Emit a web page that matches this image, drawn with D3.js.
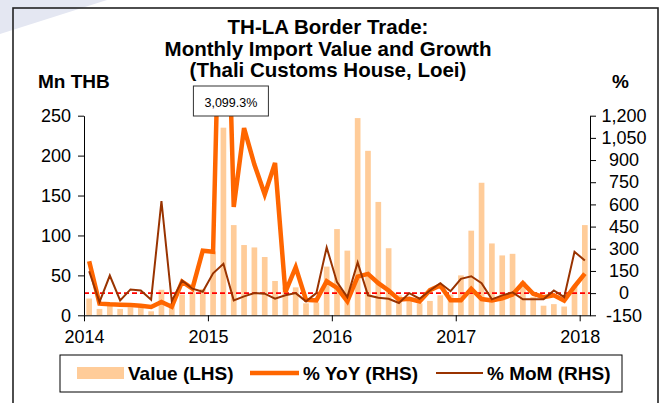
<!DOCTYPE html>
<html>
<head>
<meta charset="utf-8">
<script src="https://cdn.jsdelivr.net/npm/d3@7"></script>
<style>
    body { margin: 0; background: #fff; }
    svg { display: block; font-family: "Liberation Sans", Arial, sans-serif; }
    .axis path, .axis line { stroke: #000; }
</style>
</head>
<body>
<div id="chart"></div>
<script>

// monthly series, Jan 2014 .. Jan 2018
const yearLabels = ["2014", "2015", "2016", "2017", "2018"];

// import value, Mn THB (LHS)
const importValue = [
    21, 8, 16, 8, 10, 10, 5, 32, 14, 26, 30, 33,
    80, 235, 113, 88, 85, 73, 43, 35, 35, 15, 16, 61,
    108, 81, 247, 206, 142, 84, 25, 22, 15, 18, 25, 26,
    50, 106, 166, 90, 75, 77, 42, 23, 12, 14, 11, 36,
    113
];

// % YoY (RHS)
const yoyGrowth = [
    215, -71, -76, -78, -80, -85, -94, -60, -92, 78, 30, 287,
    280, 3099.3, 583, 1116, 870, 668, 881, 7, 175, -46, -49, 80,
    35, -55, 112, 130, 67, 18, -44, -38, -56, 20, 52, -49,
    -49, 30, -40, -49, -35, -10, 68, -4, -27, -15, -50, 45,
    132
];

// % MoM (RHS)
const momGrowth = [
    148, -60, 119, -49, 25, 18, -44, 623, -54, 85, 30, 9,
    134, 198, -49, -22, 0, -4, -38, -15, 0, -56, 0, 309,
    74, -27, 208, -15, -31, -38, -67, 0, -38, 18, 67, 13,
    97, 114, 67, -42, -15, 5, -42, -42, -42, 18, -27, 280,
    220
];

const leftTicks = [0, 50, 100, 150, 200, 250];
const rightTicks = [-150, 0, 150, 300, 450, 600, 750, 900, 1050, 1200];
const peakLabel = "3,099.3%";

const W = 667, H = 403;
const plot = {left: 84, right: 590, top: 115.7, bottom: 315.3};

let svg = d3.select("#chart").append("svg")
    .attr("width", W)
    .attr("height", H);

svg.append("rect").attr("width", W).attr("height", H).attr("fill", "#fff");

// faint slide background streak at the corner
svg.append("polygon")
    .attr("points", "0,0 107,0 0,34")
    .attr("fill", "#e4e7f2");

// outer frame
svg.append("rect")
    .attr("x", 13).attr("y", 8)
    .attr("width", 645).attr("height", 420)
    .attr("fill", "none")
    .attr("stroke", "#222")
    .attr("stroke-width", 1.6);

// title
let title = svg.append("text")
    .attr("text-anchor", "middle")
    .attr("font-weight", "bold")
    .attr("font-size", 20.5)
    .attr("fill", "#000");
["TH-LA Border Trade:", "Monthly Import Value and Growth", "(Thali Customs House, Loei)"]
    .forEach((t, i) => {
        title.append("tspan").attr("x", 328).attr("y", 34 + i * 21.7).text(t);
    });

svg.append("text").attr("x", 38).attr("y", 88)
    .attr("font-weight", "bold").attr("font-size", 19).text("Mn THB");
svg.append("text").attr("x", 612).attr("y", 88)
    .attr("font-weight", "bold").attr("font-size", 19).text("%");

// scales
const idx = d3.range(importValue.length);

let xBand = d3.scaleBand()
    .domain(idx)
    .range([plot.left, plot.right])
    .paddingInner(0.45)
    .paddingOuter(0.225);

let xLin = d3.scaleLinear()
    .domain([0, importValue.length])
    .range([plot.left, plot.right]);

let yLeft = d3.scaleLinear().domain([0, 250]).range([plot.bottom, plot.top]);
let yRight = d3.scaleLinear().domain([-150, 1200]).range([plot.bottom, plot.top]);

const xMid = i => xBand(i) + xBand.bandwidth() / 2;

// clip lines at the plot area, like excel does
svg.append("clipPath").attr("id", "plotClip")
    .append("rect")
    .attr("x", plot.left).attr("y", plot.top)
    .attr("width", plot.right - plot.left)
    .attr("height", plot.bottom - plot.top);

// bars
svg.append("g").selectAll("rect")
    .data(importValue)
    .enter()
    .append("rect")
    .attr("x", (d, i) => xBand(i))
    .attr("y", d => yLeft(d))
    .attr("width", xBand.bandwidth())
    .attr("height", d => yLeft(0) - yLeft(d))
    .attr("fill", "#ffcc99");

// zero line of the RHS
svg.append("line")
    .attr("x1", plot.left).attr("x2", plot.right)
    .attr("y1", yRight(0)).attr("y2", yRight(0))
    .attr("stroke", "#ff0000")
    .attr("stroke-width", 1.7)
    .attr("stroke-dasharray", "5,3");

let lines = svg.append("g").attr("clip-path", "url(#plotClip)");

let lineGen = d3.line()
    .x((d, i) => xMid(i))
    .y(d => yRight(d));

lines.append("path")
    .datum(yoyGrowth)
    .attr("d", lineGen)
    .attr("fill", "none")
    .attr("stroke", "#ff6600")
    .attr("stroke-width", 4.5)
    .attr("stroke-linejoin", "miter");

lines.append("path")
    .datum(momGrowth)
    .attr("d", lineGen)
    .attr("fill", "none")
    .attr("stroke", "#993300")
    .attr("stroke-width", 2);

// axes
let leftAxis = d3.axisLeft(yLeft).tickValues(leftTicks).tickSize(6).tickSizeOuter(0);
let rightAxis = d3.axisRight(yRight).tickValues(rightTicks).tickSize(6).tickSizeOuter(0)
    .tickFormat(d => d3.format(",")(d).replace("\u2212", "-"));
let bottomAxis = d3.axisBottom(xLin)
    .tickValues(yearLabels.map((y, i) => i * 12))
    .tickFormat((d, i) => yearLabels[i])
    .tickSize(6).tickSizeOuter(0);

let gl = svg.append("g").attr("class", "axis")
    .attr("transform", "translate(" + plot.left + ",0)")
    .call(leftAxis);
gl.selectAll("text").attr("font-size", 18).attr("fill", "#000").attr("x", -13);

let gr = svg.append("g").attr("class", "axis")
    .attr("transform", "translate(" + plot.right + ",0)")
    .call(rightAxis);
gr.selectAll("text").attr("font-size", 18).attr("fill", "#000")
    .attr("x", 34).attr("text-anchor", "middle");

let gb = svg.append("g").attr("class", "axis")
    .attr("transform", "translate(0," + plot.bottom + ")")
    .call(bottomAxis);
gb.selectAll("text").attr("font-size", 18).attr("fill", "#000").attr("dy", "1.05em");

svg.selectAll(".axis").attr("font-family", null);

// callout for the off-scale peak
let peak = d3.maxIndex(yoyGrowth);
let callout = svg.append("g").attr("transform", "translate(" + (xMid(peak) - 30) + ",86)");
callout.append("rect")
    .attr("width", 75).attr("height", 30)
    .attr("fill", "#fff")
    .attr("stroke", "#333")
    .attr("stroke-width", 1);
callout.append("text")
    .attr("x", 37.5).attr("y", 21)
    .attr("text-anchor", "middle")
    .attr("font-size", 12.5)
    .text(peakLabel);

// legend
let legend = svg.append("g");
legend.append("rect")
    .attr("x", 60).attr("y", 355)
    .attr("width", 562).attr("height", 37)
    .attr("fill", "#fff")
    .attr("stroke", "#000")
    .attr("stroke-width", 1);

legend.append("rect")
    .attr("x", 77).attr("y", 367)
    .attr("width", 47).attr("height", 12)
    .attr("fill", "#ffcc99");
legend.append("line")
    .attr("x1", 250).attr("x2", 299).attr("y1", 373).attr("y2", 373)
    .attr("stroke", "#ff6600").attr("stroke-width", 4.5);
legend.append("line")
    .attr("x1", 436).attr("x2", 483).attr("y1", 373).attr("y2", 373)
    .attr("stroke", "#993300").attr("stroke-width", 2);

[["Value (LHS)", 128], ["% YoY (RHS)", 303], ["% MoM (RHS)", 487]].forEach(d => {
    legend.append("text")
        .attr("x", d[1]).attr("y", 380)
        .attr("font-weight", "bold")
        .attr("font-size", 19)
        .text(d[0]);
});

</script>
</body>
</html>
